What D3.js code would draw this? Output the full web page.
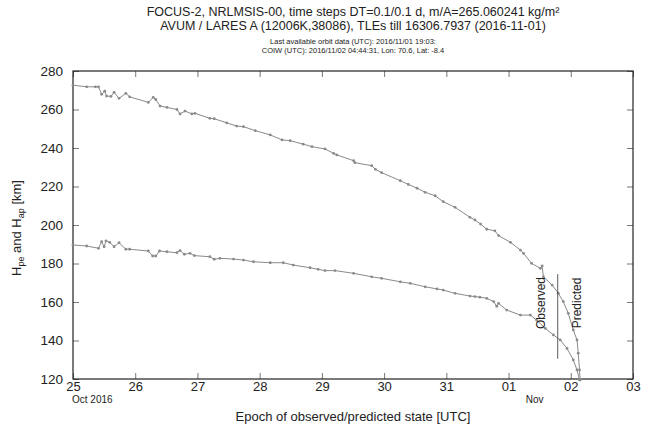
<!DOCTYPE html>
<html>
<head>
<meta charset="utf-8">
<script src="https://cdn.jsdelivr.net/npm/d3@7"></script>
<style>
  body { margin: 0; background: #fff; }
  text { font-family: "Liberation Sans", Arial, Helvetica, sans-serif; }
</style>
</head>
<body>
<div id="wrapper"></div>
<script>
// time in days after 2016-10-25 00:00 UTC, altitude in km
const apogeeT = [0.00, 0.22, 0.36, 0.41, 0.46, 0.51, 0.54, 0.61, 0.66, 0.74, 0.85, 0.91, 1.21, 1.29, 1.33, 1.40, 1.51, 1.67, 1.72, 1.80, 1.91, 1.96, 2.20, 2.27, 2.47, 2.63, 2.74, 2.93, 3.17, 3.36, 3.49, 3.70, 3.84, 4.05, 4.19, 4.24, 4.51, 4.53, 4.80, 4.86, 4.96, 5.26, 5.39, 5.53, 5.66, 5.82, 5.95, 6.14, 6.38, 6.46, 6.55, 6.65, 6.78, 6.84, 7.03, 7.19, 7.24, 7.37, 7.51, 7.54, 7.56, 7.70, 7.80, 7.88, 7.96, 8.04, 8.10, 8.12, 8.14, 8.15]
const apogeeH = [272.6, 271.8, 271.8, 271.8, 267.9, 269.5, 267.0, 266.8, 268.9, 265.8, 268.4, 266.6, 263.7, 266.3, 265.2, 261.8, 261.1, 260.0, 257.7, 259.2, 257.7, 258.0, 255.4, 255.2, 253.1, 251.4, 251.1, 249.0, 246.8, 244.2, 243.8, 242.0, 240.7, 239.5, 237.2, 236.4, 233.4, 232.4, 230.8, 228.9, 227.2, 223.0, 221.1, 219.1, 217.0, 215.2, 212.1, 209.2, 204.0, 202.6, 200.5, 197.8, 197.0, 194.5, 191.0, 187.0, 185.3, 180.1, 177.5, 178.7, 173.1, 168.8, 164.5, 160.2, 154.1, 145.5, 140.3, 133.4, 124.7, 119.5]

const perigeeT = [0.00, 0.22, 0.41, 0.46, 0.50, 0.53, 0.59, 0.66, 0.74, 0.85, 0.91, 1.21, 1.28, 1.33, 1.39, 1.51, 1.67, 1.72, 1.79, 1.88, 1.95, 2.20, 2.27, 2.36, 2.58, 2.74, 2.90, 3.17, 3.38, 3.54, 3.81, 3.94, 4.05, 4.21, 4.51, 4.80, 4.96, 5.26, 5.42, 5.66, 5.85, 5.95, 6.14, 6.38, 6.46, 6.54, 6.65, 6.76, 6.81, 6.84, 6.97, 7.19, 7.35, 7.45, 7.59, 7.72, 7.83, 7.94, 8.04, 8.10, 8.14]
const perigeeH = [189.6, 189.1, 187.9, 191.3, 188.7, 191.8, 191.0, 188.7, 190.8, 187.4, 187.4, 186.5, 183.9, 183.9, 186.5, 186.1, 185.6, 186.7, 184.8, 185.3, 184.1, 183.5, 182.2, 182.7, 182.3, 181.8, 180.9, 180.4, 180.4, 179.2, 177.8, 177.0, 176.3, 176.3, 174.9, 173.1, 172.3, 170.5, 169.7, 167.9, 166.8, 166.2, 164.5, 163.1, 162.8, 162.5, 161.9, 160.2, 157.8, 159.3, 155.8, 153.2, 153.2, 150.6, 146.3, 142.9, 140.3, 135.9, 129.9, 124.7, 119.5]

// last observed epoch (2016-11-01 19:03) and marker span
const lastObsT = 7.79
const lastObsSpan = [174.5, 130.5]

const yTicks = [120, 140, 160, 180, 200, 220, 240, 260, 280]

const titleLines = [
    "FOCUS-2, NRLMSIS-00, time steps DT=0.1/0.1 d, m/A=265.060241 kg/m\u00B2",
    "AVUM / LARES A (12006K,38086), TLEs till 16306.7937 (2016-11-01)"
]
const subLines = [
    "Last available orbit data (UTC): 2016/11/01 19:03:",
    "COIW (UTC): 2016/11/02 04:44:31, Lon:  70.6, Lat:  -8.4"
]

const t0 = Date.UTC(2016, 9, 25)
const toDate = t => new Date(t0 + t * 864e5)

let dimensions = {
    width: 651,
    height: 433,
    margin: { top: 71, right: 18, bottom: 54, left: 73 },
}
dimensions.boundedWidth = dimensions.width - dimensions.margin.left - dimensions.margin.right
dimensions.boundedHeight = dimensions.height - dimensions.margin.top - dimensions.margin.bottom

const svg = d3.select("#wrapper")
    .append("svg")
        .attr("width", dimensions.width)
        .attr("height", dimensions.height)

const bounds = svg.append("g")
    .attr("transform", `translate(${dimensions.margin.left},${dimensions.margin.top})`)

const x = d3.scaleUtc()
    .domain([toDate(0), toDate(9)])
    .range([0, dimensions.boundedWidth])

const y = d3.scaleLinear()
    .domain([120, 280])
    .range([dimensions.boundedHeight, 0])

const dayTicks = d3.utcDay.range(toDate(0), toDate(9.01))

// axes, ticks pointing inward on all four sides
const tickColor = "#777"
bounds.append("g")
    .attr("transform", `translate(0,${dimensions.boundedHeight})`)
    .call(d3.axisBottom(x).tickValues(dayTicks).tickFormat(d3.utcFormat("%d")).tickSize(-6).tickPadding(3))
    .call(g => g.select(".domain").remove())
    .call(g => g.selectAll("line").attr("stroke", tickColor))
    .call(g => g.selectAll("text").attr("font-size", 13).attr("fill", "#222").attr("font-family", null))

bounds.append("g")
    .call(d3.axisTop(x).tickValues(dayTicks).tickFormat("").tickSize(-6))
    .call(g => g.select(".domain").remove())
    .call(g => g.selectAll("line").attr("stroke", tickColor))

bounds.append("g")
    .call(d3.axisLeft(y).tickValues(yTicks).tickSize(-6).tickPadding(10))
    .call(g => g.select(".domain").remove())
    .call(g => g.selectAll("line").attr("stroke", tickColor))
    .call(g => g.selectAll("text").attr("font-size", 13.5).attr("fill", "#222").attr("font-family", null))

bounds.append("g")
    .attr("transform", `translate(${dimensions.boundedWidth},0)`)
    .call(d3.axisRight(y).tickValues(yTicks).tickFormat("").tickSize(-6))
    .call(g => g.select(".domain").remove())
    .call(g => g.selectAll("line").attr("stroke", tickColor))

bounds.append("rect")
    .attr("width", dimensions.boundedWidth)
    .attr("height", dimensions.boundedHeight)
    .attr("fill", "none")
    .attr("stroke", "#222")
    .attr("stroke-width", 1.2)

// month labels under the day ticks
bounds.append("text")
    .attr("x", x(toDate(0)) - 1)
    .attr("y", dimensions.boundedHeight + 24)
    .attr("font-size", 10)
    .attr("fill", "#222")
    .text("Oct 2016")

bounds.append("text")
    .attr("x", x(toDate(7.42)))
    .attr("y", dimensions.boundedHeight + 24)
    .attr("text-anchor", "middle")
    .attr("font-size", 10)
    .attr("fill", "#222")
    .text("Nov")

// series
const line = d3.line()
    .x(d => x(toDate(d[0])))
    .y(d => y(d[1]))

const series = [
    d3.zip(apogeeT, apogeeH),
    d3.zip(perigeeT, perigeeH),
]

const plot = bounds.append("g")

series.forEach(pts => {
    plot.append("path")
        .datum(pts)
        .attr("d", line)
        .attr("fill", "none")
        .attr("stroke", "#8a8a8a")
        .attr("stroke-width", 1)

    plot.selectAll(null)
        .data(pts)
        .join("circle")
        .attr("cx", d => x(toDate(d[0])))
        .attr("cy", d => y(d[1]))
        .attr("r", 1.4)
        .attr("fill", "#8a8a8a")
})

// observed / predicted separator
const sepX = x(toDate(lastObsT))
bounds.append("line")
    .attr("x1", sepX).attr("x2", sepX)
    .attr("y1", y(lastObsSpan[0])).attr("y2", y(lastObsSpan[1]))
    .attr("stroke", "#333")
    .attr("stroke-width", 0.8)

const labelY = y(159.5)
bounds.append("text")
    .attr("transform", `translate(${sepX - 13},${labelY}) rotate(-90)`)
    .attr("text-anchor", "middle")
    .attr("font-size", 12)
    .attr("fill", "#222")
    .text("Observed")

bounds.append("text")
    .attr("transform", `translate(${sepX + 23},${labelY}) rotate(-90)`)
    .attr("text-anchor", "middle")
    .attr("font-size", 12)
    .attr("fill", "#222")
    .text("Predicted")

// titles
const cx = dimensions.margin.left + dimensions.boundedWidth / 2
titleLines.forEach((s, i) => {
    svg.append("text")
        .attr("x", cx).attr("y", 16 + i * 14)
        .attr("text-anchor", "middle")
        .attr("font-size", 12.5)
        .attr("fill", "#222")
        .text(s)
})

subLines.forEach((s, i) => {
    svg.append("text")
        .attr("x", cx).attr("y", 44 + i * 9)
        .attr("text-anchor", "middle")
        .attr("font-size", 7.5)
        .attr("fill", "#222")
        .text(s)
})

// axis labels
svg.append("text")
    .attr("x", cx)
    .attr("y", 421)
    .attr("text-anchor", "middle")
    .attr("font-size", 13)
    .attr("fill", "#222")
    .text("Epoch of observed/predicted state [UTC]")

const yl = svg.append("text")
    .attr("transform", `translate(21,${dimensions.margin.top + dimensions.boundedHeight / 2 + 3}) rotate(-90)`)
    .attr("text-anchor", "middle")
    .attr("font-size", 13)
    .attr("fill", "#222")
yl.append("tspan").text("H")
yl.append("tspan").attr("font-size", 9).attr("dy", 3).text("pe")
yl.append("tspan").attr("dy", -3).text(" and H")
yl.append("tspan").attr("font-size", 9).attr("dy", 3).text("ap")
yl.append("tspan").attr("dy", -3).text(" [km]")
</script>
</body>
</html>
